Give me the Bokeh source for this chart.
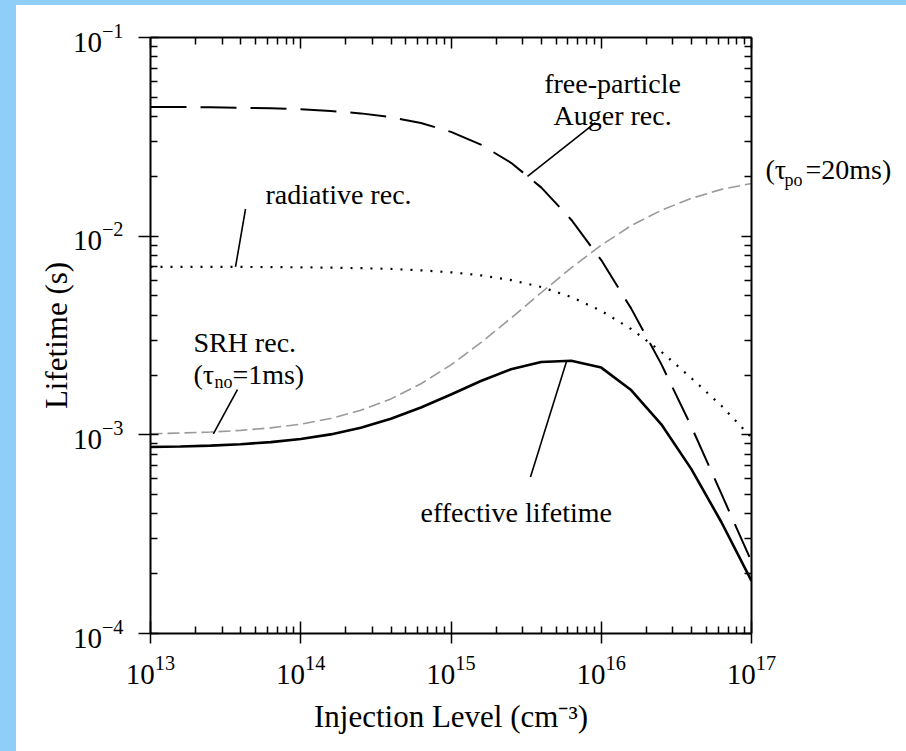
from bokeh.plotting import figure
from bokeh.models import (Range1d, LogAxis, FixedTicker, CustomJSTickFormatter,
                          LogTickFormatter, Label, Spacer)
from bokeh.layouts import row, column
from bokeh.embed import file_html
from bokeh.resources import INLINE

# ---- data: lifetimes (s) versus injection level (cm^-3) ----
injection = [1.0e13, 1.58e13, 2.51e13, 3.98e13, 6.31e13,
             1.0e14, 1.58e14, 2.51e14, 3.98e14, 6.31e14,
             1.0e15, 1.58e15, 2.51e15, 3.98e15, 6.31e15,
             1.0e16, 1.58e16, 2.51e16, 3.98e16, 6.31e16, 1.0e17]

tau_srh = [1.013e-3, 1.021e-3, 1.033e-3, 1.053e-3, 1.084e-3,
           1.132e-3, 1.209e-3, 1.329e-3, 1.517e-3, 1.807e-3,
           2.25e-3, 2.91e-3, 3.87e-3, 5.19e-3, 6.92e-3,
           9.0e-3, 11.3e-3, 13.5e-3, 15.5e-3, 17.2e-3, 18.4e-3]

tau_rad = [7.01e-3, 7.01e-3, 7.01e-3, 7.00e-3, 6.99e-3,
           6.97e-3, 6.94e-3, 6.90e-3, 6.84e-3, 6.73e-3,
           6.58e-3, 6.35e-3, 6.01e-3, 5.55e-3, 4.94e-3,
           4.21e-3, 3.41e-3, 2.62e-3, 1.93e-3, 1.40e-3, 0.97e-3]

tau_auger = [44.7e-3, 44.7e-3, 44.5e-3, 44.3e-3, 44.0e-3,
             43.5e-3, 42.7e-3, 41.5e-3, 39.7e-3, 37.1e-3,
             33.5e-3, 28.9e-3, 23.4e-3, 17.6e-3, 12.1e-3,
             7.58e-3, 4.33e-3, 2.27e-3, 1.10e-3, 0.504e-3, 0.23e-3]

tau_eff = [0.868e-3, 0.874e-3, 0.882e-3, 0.897e-3, 0.919e-3,
           0.952e-3, 1.005e-3, 1.085e-3, 1.204e-3, 1.372e-3,
           1.597e-3, 1.867e-3, 2.139e-3, 2.327e-3, 2.36e-3,
           2.18e-3, 1.68e-3, 1.13e-3, 0.672e-3, 0.363e-3, 0.184e-3]

x_decades = [1e13, 1e14, 1e15, 1e16, 1e17]
y_decades = [1e-4, 1e-3, 1e-2, 1e-1]

SERIF = "Liberation Serif"
BLUE = "#90cefa"

p = figure(width=890, height=746, x_axis_type="log", y_axis_type="log",
           x_range=Range1d(1e13, 1e17), y_range=Range1d(1e-4, 1e-1),
           output_backend="svg", toolbar_location=None,
           min_border_left=134, min_border_right=155,
           min_border_top=32, min_border_bottom=118,
           background_fill_color="white", border_fill_color="white",
           outline_line_color=None)
p.xgrid.visible = False
p.ygrid.visible = False

x_minor = [m * 10.0 ** e for e in range(13, 17) for m in range(2, 10)]
y_minor = [m * 10.0 ** e for e in range(-4, -1) for m in range(2, 10)]


def style_axis(ax, ticks, minor, tick_in, tick_out, labelled):
    ax.ticker = FixedTicker(ticks=ticks, minor_ticks=minor)
    if labelled:
        ax.formatter = LogTickFormatter(min_exponent=0)
    else:
        ax.formatter = CustomJSTickFormatter(code="return ''")
        ax.major_label_standoff = 0
    ax.axis_line_width = 2
    ax.axis_line_color = "black"
    ax.major_tick_in = tick_in
    ax.major_tick_out = tick_out
    ax.minor_tick_in = 7
    ax.minor_tick_out = 0
    ax.major_tick_line_width = 1.5
    ax.minor_tick_line_width = 1.5
    ax.major_tick_line_color = "black"
    ax.minor_tick_line_color = "black"
    ax.major_label_text_font = SERIF
    ax.major_label_text_font_size = "29px"
    ax.major_label_text_color = "black"
    ax.axis_label_text_font = SERIF
    ax.axis_label_text_font_size = "31px"
    ax.axis_label_text_font_style = "normal"
    ax.axis_label_text_color = "black"


style_axis(p.xaxis[0], x_decades, x_minor, 12, 10, True)
style_axis(p.yaxis[0], y_decades, y_minor, 8, 12, True)
p.xaxis[0].major_label_standoff = 12
p.yaxis[0].major_label_standoff = 15
p.xaxis[0].axis_label = "Injection Level (cm\u207b\u00b3)"
p.xaxis[0].axis_label_standoff = 12
p.yaxis[0].axis_label = "Lifetime (s)"
p.yaxis[0].axis_label_standoff = -4

top_axis = LogAxis()
right_axis = LogAxis()
style_axis(top_axis, x_decades, x_minor, 11, 0, False)
style_axis(right_axis, y_decades, y_minor, 10, 0, False)
p.add_layout(top_axis, "above")
p.add_layout(right_axis, "right")

# ---- curves ----
p.line(injection, tau_srh, line_color="#9a9a9a", line_width=1.6, line_dash="12 5")
p.line(injection, tau_rad, line_color="black", line_width=2.2, line_dash="2 8")
p.line(injection, tau_auger, line_color="black", line_width=2, line_dash="36 14")
p.line(injection, tau_eff, line_color="black", line_width=2.6)

# ---- leader lines from the annotations to their curves ----
lead_x0 = [9.16e15, 4.29e13, 3.79e13, 5.87e15]
lead_y0 = [0.0373, 0.0137, 1.69e-3, 2.34e-3]
lead_x1 = [3.23e15, 3.68e13, 2.62e13, 3.38e15]
lead_y1 = [0.0200, 7.0e-3, 1.01e-3, 6.14e-4]
p.segment(lead_x0, lead_y0, lead_x1, lead_y1, line_color="black", line_width=1.6)


def text(x, y, s, size=28, dx=0, dy=0, align="left"):
    p.add_layout(Label(x=x, y=y, text=s, x_offset=dx, y_offset=dy,
                       text_font=SERIF, text_font_size=f"{size}px",
                       text_align=align, text_baseline="alphabetic",
                       text_color="black"))


# curve annotations inside the frame
text(1.19e16, 0.0586, "free-particle", align="center")
text(1.19e16, 0.0404, "Auger rec.", align="center")
text(5.82e13, 0.0163, "radiative rec.")
text(1.93e13, 2.92e-3, "SRH rec.")
text(1.93e13, 2.01e-3, "(\u03c4")
text(1.93e13, 2.01e-3, "no", 18, dx=21, dy=-7)
text(1.93e13, 2.01e-3, "=1ms)", dx=39)
text(6.27e14, 4.08e-4, "effective lifetime")


# the SRH high-injection note sits right of the frame: one tick-less axis per piece
def side_note(y, s, size, standoff):
    ax = LogAxis(ticker=FixedTicker(ticks=[y], minor_ticks=[]),
                 formatter=CustomJSTickFormatter(code=f"return '{s}'"))
    ax.axis_line_color = None
    ax.major_tick_in = 0
    ax.major_tick_out = 0
    ax.minor_tick_in = 0
    ax.minor_tick_out = 0
    ax.major_label_standoff = standoff
    ax.major_label_text_font = SERIF
    ax.major_label_text_font_size = f"{size}px"
    ax.major_label_text_color = "black"
    p.add_layout(ax, "right")


side_note(0.0217, "(\u03c4", 28, 14)
side_note(0.0191, "po", 18, -5)
side_note(0.0217, "=20ms)", 28, 0)

left_band = Spacer(width=16, height=751, styles={"background-color": BLUE})
top_band = Spacer(width=890, height=5, styles={"background-color": BLUE})
page = row(left_band, column(top_band, p))

open("out.html", "w").write(file_html(page, INLINE))
